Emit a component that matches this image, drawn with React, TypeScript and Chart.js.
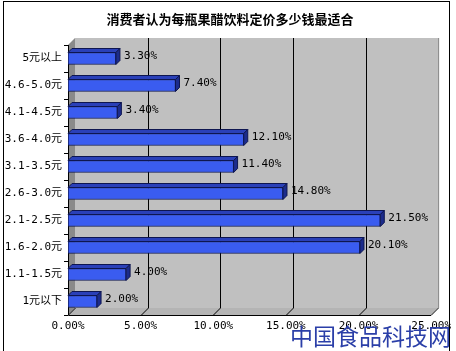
import React, { useEffect, useRef } from "react";
import { Chart, registerables } from "chart.js";

Chart.register(...registerables);

const title = "消费者认为每瓶果醋饮料定价多少钱最适合";
const categories = ["5元以上", "4.6-5.0元", "4.1-4.5元", "3.6-4.0元", "3.1-3.5元", "2.6-3.0元", "2.1-2.5元", "1.6-2.0元", "1.1-1.5元", "1元以下"];
const values = [3.3, 7.4, 3.4, 12.1, 11.4, 14.8, 21.5, 20.1, 4.0, 2.0];
const xTicks = [0, 5, 10, 15, 20, 25];
const watermark = "中国食品科技网";

const MONO = "'DejaVu Sans Mono', 'Noto Sans CJK SC', monospace";
const WALL = 7;   // depth of the 3D walls
const BAR_D = 4;  // depth of the bars

const threeD = {
  id: "threeD",
  beforeDatasetsDraw(chart: any) {
    const { ctx, chartArea: a, scales } = chart;
    const xs = scales.x;
    const ys = scales.y;
    ctx.save();
    // back wall
    ctx.fillStyle = "#c0c0c0";
    ctx.fillRect(a.left + WALL, a.top - WALL, a.right - a.left, a.bottom - a.top);
    // side wall
    ctx.fillStyle = "#8a8a8a";
    ctx.beginPath();
    ctx.moveTo(a.left, a.top);
    ctx.lineTo(a.left + WALL, a.top - WALL);
    ctx.lineTo(a.left + WALL, a.bottom - WALL);
    ctx.lineTo(a.left, a.bottom);
    ctx.closePath();
    ctx.fill();
    // floor
    ctx.fillStyle = "#b4b4b4";
    ctx.beginPath();
    ctx.moveTo(a.left, a.bottom);
    ctx.lineTo(a.left + WALL, a.bottom - WALL);
    ctx.lineTo(a.right + WALL, a.bottom - WALL);
    ctx.lineTo(a.right, a.bottom);
    ctx.closePath();
    ctx.fill();
    // grid lines on back wall + floor
    ctx.strokeStyle = "#000";
    ctx.lineWidth = 1;
    xTicks.forEach((v, i) => {
      const x = Math.round(xs.getPixelForValue(v)) + 0.5;
      if (i > 0 && i < xTicks.length - 1) {
        ctx.beginPath();
        ctx.moveTo(x + WALL, a.top - WALL);
        ctx.lineTo(x + WALL, a.bottom - WALL);
        ctx.stroke();
      }
      ctx.beginPath();
      ctx.moveTo(x, a.bottom);
      ctx.lineTo(x + WALL, a.bottom - WALL);
      ctx.stroke();
    });
    // edges
    ctx.strokeStyle = "#808080";
    ctx.beginPath();
    ctx.moveTo(a.right + WALL + 0.5, a.top - WALL);
    ctx.lineTo(a.right + WALL + 0.5, a.bottom - WALL);
    ctx.lineTo(a.right, a.bottom + 0.5);
    ctx.stroke();
    ctx.strokeStyle = "#000";
    ctx.beginPath();
    ctx.moveTo(a.left + 0.5, a.top);
    ctx.lineTo(a.left + 0.5, a.bottom + 0.5);
    ctx.lineTo(a.right, a.bottom + 0.5);
    ctx.stroke();
    // category ticks on left
    const n = categories.length;
    for (let i = 0; i <= n; i++) {
      const y = Math.round(ys.getPixelForValue(i - 0.5)) + 0.5;
      ctx.beginPath();
      ctx.moveTo(a.left - 4, y);
      ctx.lineTo(a.left, y);
      ctx.stroke();
    }
    ctx.restore();
  },
  afterDatasetsDraw(chart: any) {
    const { ctx } = chart;
    const meta = chart.getDatasetMeta(0);
    ctx.save();
    meta.data.forEach((bar: any, i: number) => {
      const { x, y, base, height } = bar.getProps(["x", "y", "base", "height"], true);
      const top = y - height / 2;
      const bottom = y + height / 2;
      ctx.strokeStyle = "#0e1650";
      ctx.lineWidth = 1;
      // top face
      ctx.fillStyle = "#2a40b8";
      ctx.beginPath();
      ctx.moveTo(base, top);
      ctx.lineTo(base + BAR_D, top - BAR_D);
      ctx.lineTo(x + BAR_D, top - BAR_D);
      ctx.lineTo(x, top);
      ctx.closePath();
      ctx.fill();
      ctx.stroke();
      // right face
      ctx.fillStyle = "#1c2c8c";
      ctx.beginPath();
      ctx.moveTo(x, top);
      ctx.lineTo(x + BAR_D, top - BAR_D);
      ctx.lineTo(x + BAR_D, bottom - BAR_D);
      ctx.lineTo(x, bottom);
      ctx.closePath();
      ctx.fill();
      ctx.stroke();
      // value label
      ctx.fillStyle = "#000";
      ctx.font = "11px " + MONO;
      ctx.textAlign = "left";
      ctx.textBaseline = "middle";
      ctx.fillText(values[i].toFixed(2) + "%", x + BAR_D + 4, y - 2);
    });
    ctx.restore();
  },
  afterDraw(chart: any) {
    const { ctx, width } = chart;
    ctx.save();
    ctx.fillStyle = "#000";
    ctx.font = "bold 13px 'Noto Sans CJK SC', sans-serif";
    ctx.textAlign = "center";
    ctx.textBaseline = "middle";
    ctx.fillText(title, 230, 19);
    // frame
    ctx.strokeStyle = "#000";
    ctx.lineWidth = 1;
    ctx.strokeRect(3.5, 1.5, 446, 400);
    // watermark
    ctx.fillStyle = "#2b3fa8";
    ctx.font = "23px 'Noto Sans CJK SC', sans-serif";
    ctx.textAlign = "left";
    ctx.textBaseline = "middle";
    ctx.fillText(watermark, 290, 336);
    ctx.restore();
  },
};

export default function App() {
  const ref = useRef<HTMLCanvasElement>(null);
  useEffect(() => {
    if (!ref.current) return;
    const chart = new Chart(ref.current, {
      type: "bar",
      data: {
        labels: categories,
        datasets: [
          {
            data: values,
            backgroundColor: "#3a5cf0",
            borderColor: "#0e1650",
            borderWidth: 1,
            borderSkipped: false,
            barThickness: 12,
          },
        ],
      },
      options: {
        indexAxis: "y",
        animation: false,
        responsive: false,
        maintainAspectRatio: false,
        layout: { padding: { left: 0, right: 18, top: 45, bottom: 0 } },
        plugins: { legend: { display: false }, title: { display: false }, tooltip: { enabled: false } },
        scales: {
          x: {
            min: 0,
            max: 25,
            afterBuildTicks(scale: any) {
              scale.ticks = xTicks.map((v) => ({ value: v }));
            },
            afterFit(scale: any) {
              scale.height = 36;
            },
            grid: { display: false, drawTicks: false },
            border: { display: false },
            ticks: {
              padding: 5,
              color: "#000",
              font: { family: MONO, size: 11 },
              maxRotation: 0,
              callback: (v: any) => Number(v).toFixed(2) + "%",
            },
          },
          y: {
            afterFit(scale: any) {
              scale.width = 68;
            },
            grid: { display: false, drawTicks: false },
            border: { display: false },
            ticks: {
              padding: 6,
              color: "#000",
              font: { family: MONO, size: 11 },
            },
          },
        },
      },
      plugins: [threeD],
    });
    return () => chart.destroy();
  }, []);
  return (
    <div style={{ position: "absolute", left: 0, top: 0, width: 456, height: 351, background: "#fff" }}>
      <canvas ref={ref} width={456} height={351} style={{ display: "block" }} />
    </div>
  );
}
